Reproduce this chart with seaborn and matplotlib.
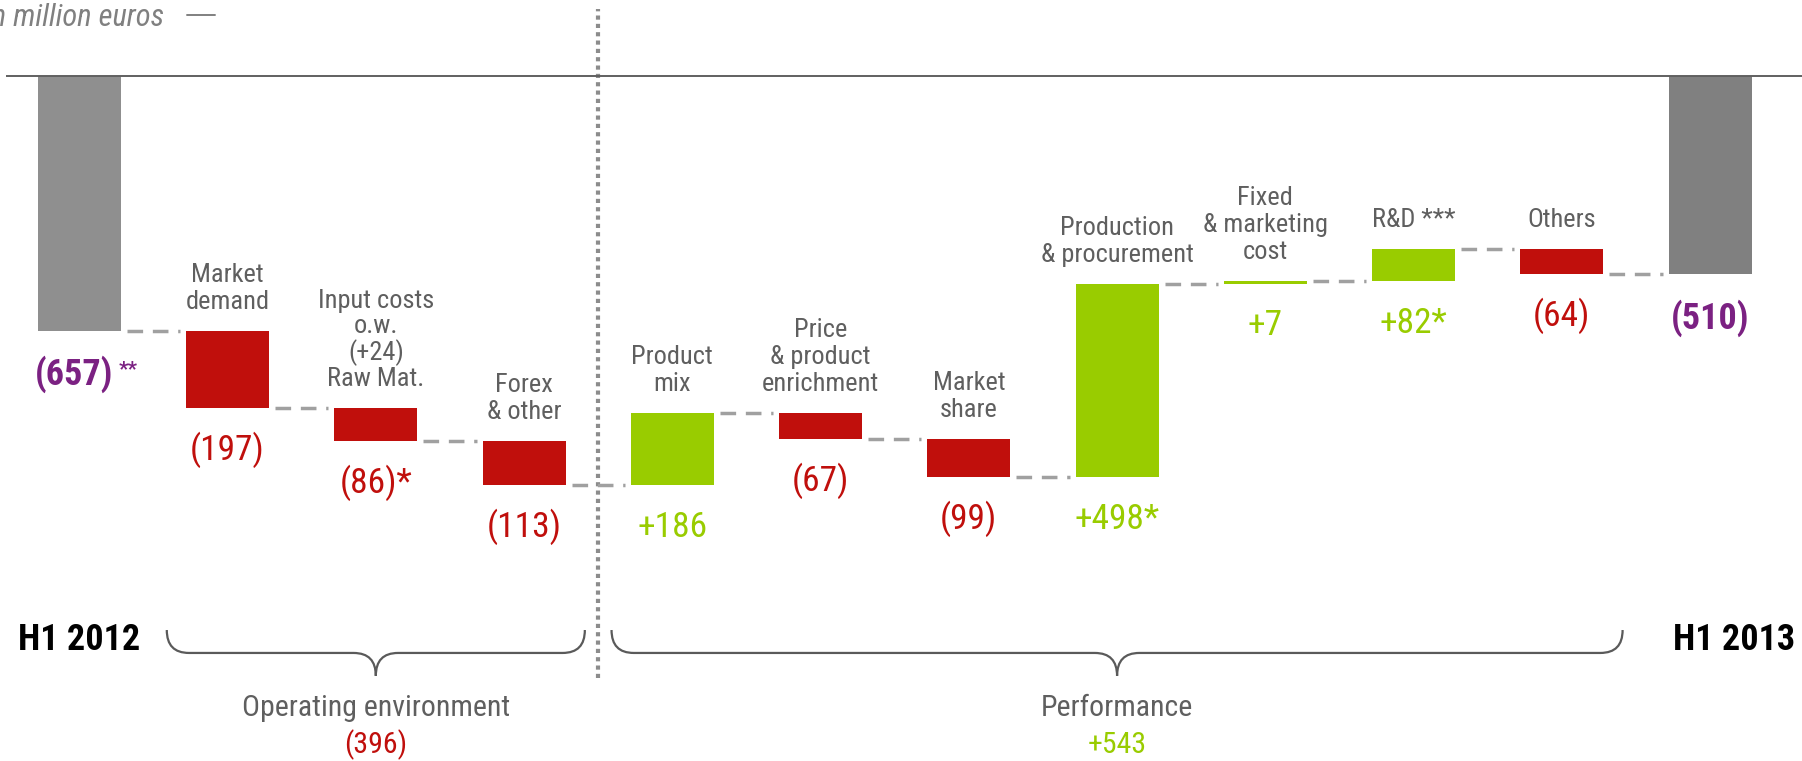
import numpy as np
import pandas as pd
import matplotlib
matplotlib.use("Agg")
import matplotlib.pyplot as plt
import seaborn as sns
from matplotlib import font_manager as fm
from matplotlib.path import Path
from matplotlib.patches import PathPatch
from matplotlib.lines import Line2D

# ---------------- data ----------------
categories = ["H1 2012", "Market\ndemand", "Input costs\no.w.\n(+24)\nRaw Mat.", "Forex\n& other",
              "Product\nmix", "Price\n& product\nenrichment", "Market\nshare",
              "Production\n& procurement", "Fixed\n& marketing\ncost", "R&D ***", "Others", "H1 2013"]
deltas = [-657, -197, -86, -113, 186, -67, -99, 498, 7, 82, -64, -510]
is_total = [True, False, False, False, False, False, False, False, False, False, False, True]
value_labels = ["(657)", "(197)", "(86)*", "(113)", "+186", "(67)", "(99)", "+498*", "+7", "+82*", "(64)", "(510)"]
start_note = "**"
group_names = ["Operating environment", "Performance"]
group_values = ["(396)", "+543"]
group_first = [1, 4]
group_last = [3, 10]
unit_label = "in million euros"

# ---------------- colours ----------------
RED = "#C00F0C"
GREEN = "#99CC00"
PURPLE = "#7B2182"
GREY_TXT = "#5F5F5F"
TOTAL_COLORS = ["#8F8F8F", "#808080"]

sns.set_theme(style="white")
available = {f.name for f in fm.fontManager.ttflist}
candidates = ["Arial Narrow", "Liberation Sans Narrow", "Roboto Condensed", "Archivo Narrow",
              "PT Sans Narrow", "IBM Plex Sans Condensed", "Open Sans Condensed"]
chosen = [c for c in candidates if c in available][:1]
plt.rcParams['font.family'] = chosen + ['DejaVu Sans']

W, H, DPI = 1802, 761, 100
fig = plt.figure(figsize=(W / DPI, H / DPI), dpi=DPI, facecolor="white")
ax = fig.add_axes([0, 0, 1, 1])

n = len(categories)
df = pd.DataFrame({"step": categories, "delta": deltas})
BW = 0.56
sns.barplot(data=df, x="step", y="delta", order=categories, width=BW,
            errorbar=None, ax=ax, color=RED, saturation=1)

# waterfall geometry
starts, ends = [], []
level = 0
for d, t in zip(deltas, is_total):
    if t:
        s, e = 0, d
    else:
        s, e = level, level + d
    starts.append(s)
    ends.append(e)
    level = e

tcount = 0
for i, p in enumerate(ax.patches[:n]):
    p.set_y(starts[i])
    p.set_height(deltas[i])
    p.set_linewidth(0)
    if is_total[i]:
        p.set_facecolor(TOTAL_COLORS[tcount]); tcount += 1
    else:
        p.set_facecolor(GREEN if deltas[i] > 0 else RED)

# connectors
for i in range(n - 1):
    ax.hlines(ends[i], i + BW / 2 + 0.04, i + 1 - BW / 2 - 0.04, colors="#A0A0A0",
              linewidth=2.5, linestyles=(0, (4.5, 2.8)), zorder=1)

# axes frame
XL = (-0.535, 11.62)
YL = (-1763, 195)
ax.set_xlim(*XL)
ax.set_ylim(*YL)
ax.set_axis_off()

# zero line
ax.hlines(0, -0.496, XL[1], colors="#606060", linewidth=1.4, zorder=3)
# separator
ax.vlines(3.5, -1550, 172, colors="#8C8C8C", linewidth=3, linestyles=(0, (1, 1)), zorder=0)

# labels
for i in range(n):
    top = max(starts[i], ends[i])
    bot = min(starts[i], ends[i])
    if is_total[i]:
        if i == 0:
            ax.annotate(value_labels[i], xy=(i, bot), xytext=(-5, -43), textcoords="offset pixels",
                        ha="center", va="center", fontsize=26, fontweight="bold", color=PURPLE)
            ax.annotate(start_note, xy=(i, bot), xytext=(39, -39), textcoords="offset pixels",
                        ha="left", va="center", fontsize=15, fontweight="bold", color=PURPLE)
        else:
            ax.annotate(value_labels[i], xy=(i, bot), xytext=(0, -44), textcoords="offset pixels",
                        ha="center", va="center", fontsize=26, fontweight="bold", color=PURPLE)
        ax.text(i + (0.16 if i == n - 1 else 0), -1452, categories[i], ha="center", va="center",
                fontsize=26, fontweight="bold", color="black")
    else:
        col = GREEN if deltas[i] > 0 else RED
        nlines = categories[i].count("\n") + 1
        lsp = 1.05 if nlines > 3 else 1.15
        ax.annotate(categories[i], xy=(i, top), xytext=(0, 17), textcoords="offset pixels",
                    ha="center", va="bottom", fontsize=19, color=GREY_TXT, linespacing=lsp)
        ax.annotate(value_labels[i], xy=(i, bot), xytext=(0, -42), textcoords="offset pixels",
                    ha="center", va="center", fontsize=25.5, color=col)

# braces
def brace(x0, x1, ytop, ymid, ytip, r=0.15):
    xc = (x0 + x1) / 2
    verts = [(x0, ytop), (x0, ymid), (x0 + r, ymid),
             (xc - r, ymid),
             (xc, ymid), (xc, ytip),
             (xc, ymid), (xc + r, ymid),
             (x1 - r, ymid),
             (x1, ymid), (x1, ytop)]
    codes = [Path.MOVETO, Path.CURVE3, Path.CURVE3, Path.LINETO,
             Path.CURVE3, Path.CURVE3, Path.CURVE3, Path.CURVE3, Path.LINETO,
             Path.CURVE3, Path.CURVE3]
    ax.add_patch(PathPatch(Path(verts, codes), fill=False, edgecolor="#5A5A5A", linewidth=1.6))
    return xc

for g in range(len(group_names)):
    x0 = group_first[g] - 0.41
    x1 = group_last[g] + 0.41
    xc = brace(x0, x1, -1426, -1485, -1544)
    col = GREEN if group_values[g].startswith("+") else RED
    ax.text(xc, -1626, group_names[g], ha="center", va="center", fontsize=21.5, color=GREY_TXT)
    ax.text(xc, -1722, group_values[g], ha="center", va="center", fontsize=21.5, color=col)

# unit label
fig.text(164 / W, 1 - 17 / H, unit_label, ha="right", va="center", fontsize=22,
         style="italic", color="#808080")
fig.add_artist(Line2D([187 / W, 215 / W], [1 - 15 / H, 1 - 15 / H], color="#808080", linewidth=1.4))

fig.savefig("out.png", dpi=DPI, facecolor="white")
